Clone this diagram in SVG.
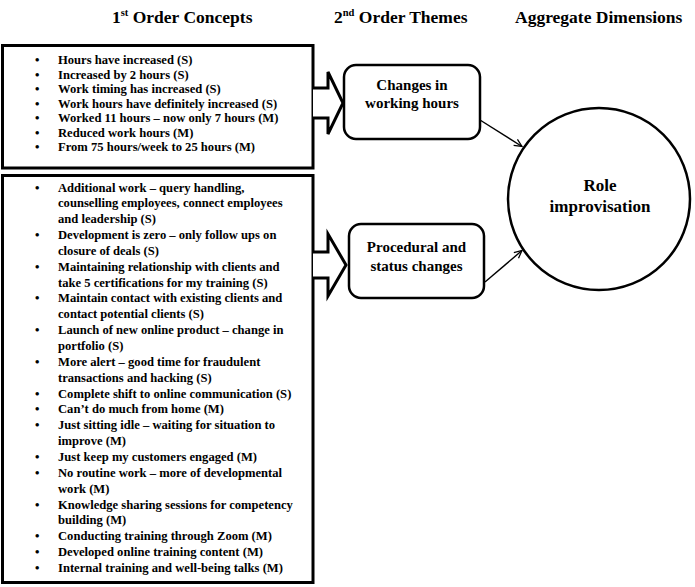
<svg xmlns="http://www.w3.org/2000/svg" width="695" height="587" viewBox="0 0 695 587">
<style>
text{font-family:"Liberation Serif","Times New Roman",serif;font-weight:bold;fill:#000}
.h{font-size:17.5px}
.sup{font-size:10.5px}
.b{font-size:12.6px}
.t{font-size:15px;text-anchor:middle}
.c{font-size:17px;text-anchor:middle}
.box{fill:#fff;stroke:#000;stroke-width:3}
.rbox{fill:#fff;stroke:#000;stroke-width:2.5}
.blk{fill:#fff;stroke:#000;stroke-width:3;stroke-linejoin:miter}
.conn{stroke:#000;stroke-width:1.4;fill:none}
</style>
<defs>
<marker id="v" viewBox="0 0 10 10" refX="9.5" refY="5" markerWidth="9" markerHeight="9" orient="auto" markerUnits="userSpaceOnUse">
<path d="M1,1 L9.5,5 L1,9" fill="none" stroke="#000" stroke-width="1.4"/>
</marker>
</defs>
<rect width="695" height="587" fill="#fff"/>
<g id="headers">
<text class="h" x="112" y="23">1<tspan class="sup" dy="-7">st</tspan><tspan dy="7"> Order Concepts</tspan></text>
<text class="h" x="334" y="23">2<tspan class="sup" dy="-7">nd</tspan><tspan dy="7"> Order Themes</tspan></text>
<text class="h" x="515" y="23">Aggregate Dimensions</text>
</g>
<g id="concepts1">
<rect class="box" x="2.5" y="45.5" width="310.5" height="122.5"/>
<g class="b">
<text x="35" y="64">•</text><text x="58" y="64">Hours have increased (S)</text>
<text x="35" y="78.5">•</text><text x="58" y="78.5">Increased by 2 hours (S)</text>
<text x="35" y="93">•</text><text x="58" y="93">Work timing has increased (S)</text>
<text x="35" y="107.5">•</text><text x="58" y="107.5">Work hours have definitely increased (S)</text>
<text x="35" y="122">•</text><text x="58" y="122">Worked 11 hours – now only 7 hours (M)</text>
<text x="35" y="136.5">•</text><text x="58" y="136.5">Reduced work hours (M)</text>
<text x="35" y="151">•</text><text x="58" y="151">From 75 hours/week to 25 hours (M)</text>
</g>
</g>
<g id="concepts2">
<rect class="box" x="2.5" y="175.5" width="310.5" height="407"/>
<g class="b">
<text x="35" y="191.5">•</text><text x="58" y="191.5">Additional work – query handling,</text>
<text x="58" y="207.35">counselling employees, connect employees</text>
<text x="58" y="223.2">and leadership (S)</text>
<text x="35" y="239.05">•</text><text x="58" y="239.05">Development is zero – only follow ups on</text>
<text x="58" y="254.9">closure of deals (S)</text>
<text x="35" y="270.75">•</text><text x="58" y="270.75">Maintaining relationship with clients and</text>
<text x="58" y="286.6">take 5 certifications for my training (S)</text>
<text x="35" y="302.45">•</text><text x="58" y="302.45">Maintain contact with existing clients and</text>
<text x="58" y="318.3">contact potential clients (S)</text>
<text x="35" y="334.15">•</text><text x="58" y="334.15">Launch of new online product – change in</text>
<text x="58" y="350">portfolio (S)</text>
<text x="35" y="365.85">•</text><text x="58" y="365.85">More alert – good time for fraudulent</text>
<text x="58" y="381.7">transactions and hacking (S)</text>
<text x="35" y="397.55">•</text><text x="58" y="397.55">Complete shift to online communication (S)</text>
<text x="35" y="413.4">•</text><text x="58" y="413.4">Can’t do much from home (M)</text>
<text x="35" y="429.25">•</text><text x="58" y="429.25">Just sitting idle – waiting for situation to</text>
<text x="58" y="445.1">improve (M)</text>
<text x="35" y="460.95">•</text><text x="58" y="460.95">Just keep my customers engaged (M)</text>
<text x="35" y="476.8">•</text><text x="58" y="476.8">No routine work – more of developmental</text>
<text x="58" y="492.65">work (M)</text>
<text x="35" y="508.5">•</text><text x="58" y="508.5">Knowledge sharing sessions for competency</text>
<text x="58" y="524.35">building (M)</text>
<text x="35" y="540.2">•</text><text x="58" y="540.2">Conducting training through Zoom (M)</text>
<text x="35" y="556.05">•</text><text x="58" y="556.05">Developed online training content (M)</text>
<text x="35" y="571.9">•</text><text x="58" y="571.9">Internal training and well-being talks (M)</text>
</g>
</g>
<g id="theme1">
<rect class="rbox" x="344" y="65" width="136" height="74" rx="12"/>
<text class="t" x="412" y="90">Changes in</text>
<text class="t" x="412" y="108">working hours</text>
</g>
<g id="theme2">
<rect class="rbox" x="349" y="224" width="135" height="74" rx="12"/>
<text class="t" x="416.5" y="252">Procedural and</text>
<text class="t" x="416.5" y="271">status changes</text>
</g>
<g id="dimension">
<circle cx="599" cy="199" r="91" fill="#fff" stroke="#000" stroke-width="2.5"/>
<text class="c" x="600" y="191">Role</text>
<text class="c" x="600" y="212">improvisation</text>
</g>
<g id="connectors">
<path class="blk" d="M313,88 H328 V72 L343,103 L328,134 V118 H313"/>
<path class="blk" d="M313,252 H328 V234 L346,265 L328,296 V278 H313"/>
<line class="conn" x1="480" y1="120" x2="522" y2="146.5" marker-end="url(#v)"/>
<line class="conn" x1="485" y1="282" x2="522" y2="250.5" marker-end="url(#v)"/>
</g>
</svg>
